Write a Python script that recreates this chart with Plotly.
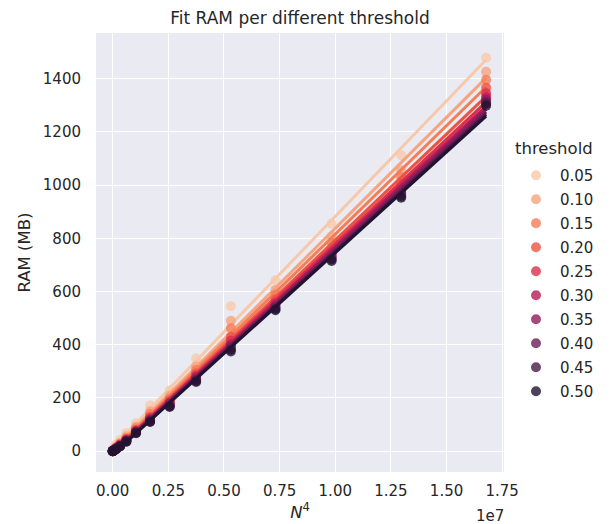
import numpy as np
import plotly.graph_objects as go

thresholds = ["0.05", "0.10", "0.15", "0.20", "0.25", "0.30", "0.35", "0.40", "0.45", "0.50"]
N_values = [4, 8, 12, 16, 20, 24, 28, 32, 36, 40, 44, 48, 52, 56, 60, 64]

# RAM (MB) for each threshold, one value per N in N_values
ram_005 = [1.0, 2.0, 5, 12, 24, 42, 68, 105, 172, 228, 348, 545, 642, 855, 1112, 1478]
ram_010 = [0.5, 1.0, 3, 8, 17, 32, 56, 92, 150, 208, 318, 490, 606, 806, 1055, 1425]
ram_015 = [0.4, 1.0, 2, 6, 14, 28, 50, 86, 140, 198, 305, 462, 588, 784, 1030, 1395]
ram_020 = [0.4, 1.0, 2, 5, 12, 25, 46, 80, 130, 190, 292, 430, 570, 762, 1004, 1365]
ram_025 = [0.3, 1.0, 2, 5, 11, 23, 43, 77, 125, 184, 284, 415, 558, 748, 990, 1345]
ram_030 = [0.3, 1.0, 2, 4, 10, 22, 41, 75, 120, 180, 278, 402, 550, 739, 978, 1330]
ram_035 = [0.3, 0.6, 1, 4, 10, 21, 40, 73, 117, 176, 273, 395, 544, 732, 970, 1320]
ram_040 = [0.3, 0.6, 1, 4, 9, 20, 38, 71, 114, 172, 268, 388, 538, 725, 963, 1312]
ram_045 = [0.2, 0.5, 1, 3, 9, 19, 37, 69, 112, 169, 264, 381, 534, 720, 958, 1305]
ram_050 = [0.2, 0.5, 1, 3, 8, 18, 36, 68, 110, 166, 260, 375, 530, 715, 952, 1298]
ram_series = [ram_005, ram_010, ram_015, ram_020, ram_025,
              ram_030, ram_035, ram_040, ram_045, ram_050]

colors = ["#f7c9ac", "#f6a47f", "#f47d57", "#ec5243", "#db2e48",
          "#b81a57", "#921c5b", "#6b1f56", "#451c47", "#221331"]

x_tickvals = [0, 0.25e7, 0.5e7, 0.75e7, 1.0e7, 1.25e7, 1.5e7, 1.75e7]
x_ticktext = ["0.00", "0.25", "0.50", "0.75", "1.00", "1.25", "1.50", "1.75"]
y_tickvals = [0, 200, 400, 600, 800, 1000, 1200, 1400]

FONT = "DejaVu Sans"
TXT = "#262626"

x = np.array(N_values, dtype=float) ** 4

fig = go.Figure()
for i, (t, ys, c) in enumerate(zip(thresholds, ram_series, colors)):
    ys = np.array(ys, dtype=float)
    fig.add_trace(go.Scatter(
        x=x, y=ys, mode="markers", name=t, legendgroup=t,
        marker=dict(color=c, size=10, opacity=0.8, line=dict(width=0)),
    ))
    slope, intercept = np.polyfit(x, ys, 1)
    xl = np.linspace(x.min(), x.max(), 50)
    fig.add_trace(go.Scatter(
        x=xl, y=slope * xl + intercept, mode="lines", legendgroup=t,
        showlegend=False, line=dict(color=c, width=3), hoverinfo="skip",
    ))

fig.update_layout(
    width=610, height=524,
    margin=dict(l=96, r=106, t=33, b=52, autoexpand=False),
    paper_bgcolor="white", plot_bgcolor="#eaeaf2",
    font=dict(family=FONT, color=TXT, size=15),
    title=dict(text="Fit RAM per different threshold", x=0.5, xref="paper",
               xanchor="center", y=1 - 18 / 524, yanchor="middle",
               font=dict(size=17, color=TXT, family=FONT)),
    legend=dict(
        font=dict(size=15, color=TXT),
        x=1.0 + 8 / 408, xanchor="left", xref="paper",
        y=1 - (159 - 33) / 439, yanchor="top",
        bgcolor="rgba(0,0,0,0)", tracegroupgap=1.5,
        itemwidth=38,
    ),
    showlegend=True,
)
fig.update_xaxes(
    range=[-0.075e7, 1.758e7], tickvals=x_tickvals, ticktext=x_ticktext,
    showgrid=True, gridcolor="white", gridwidth=1.3, zeroline=False,
    showline=False, ticks="", ticklabelstandoff=8, automargin=False,
    tickfont=dict(size=15, color=TXT),
    title=dict(text="<i>N</i><sup>4</sup>", font=dict(size=16.5, color=TXT), standoff=5),
)
fig.update_yaxes(
    range=[-78, 1571], tickvals=y_tickvals,
    showgrid=True, gridcolor="white", gridwidth=1.3, zeroline=False,
    showline=False, ticks="", ticklabelstandoff=14, automargin=False,
    tickfont=dict(size=15, color=TXT),
    title=dict(text="RAM (MB)", font=dict(size=16.5, color=TXT), standoff=8),
)
fig.add_annotation(text="threshold", xref="paper", yref="paper",
                   x=(513 - 96) / 408, xanchor="left",
                   y=1 - (148 - 33) / 439, yanchor="middle",
                   showarrow=False, font=dict(size=16.5, color=TXT, family=FONT))
fig.add_annotation(text="1e7", xref="paper", yref="paper", x=(490 - 96) / 408,
                   y=0, yshift=-44, xanchor="center", yanchor="middle",
                   showarrow=False, font=dict(size=15, color=TXT, family=FONT))

fig.write_html("out.html")
